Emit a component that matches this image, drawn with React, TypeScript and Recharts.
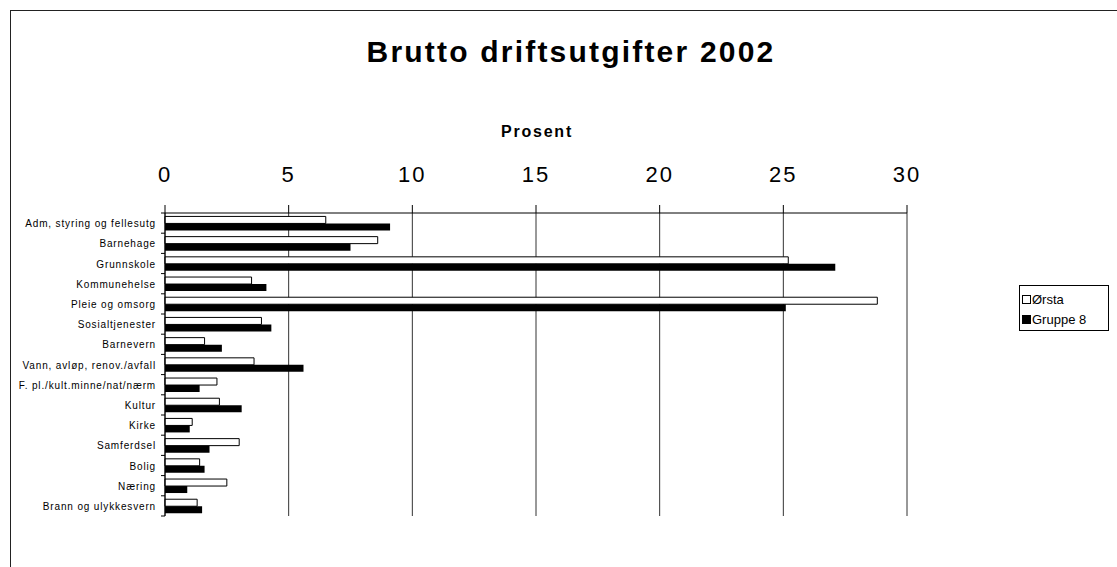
import React from 'react';
import { BarChart, Bar, XAxis, YAxis, CartesianGrid, Legend } from 'recharts';

const categories = [
  'Adm, styring og fellesutg',
  'Barnehage',
  'Grunnskole',
  'Kommunehelse',
  'Pleie og omsorg',
  'Sosialtjenester',
  'Barnevern',
  'Vann, avløp, renov./avfall',
  'F. pl./kult.minne/nat/nærm',
  'Kultur',
  'Kirke',
  'Samferdsel',
  'Bolig',
  'Næring',
  'Brann og ulykkesvern',
];
const orsta = [6.5, 8.6, 25.2, 3.5, 28.8, 3.9, 1.6, 3.6, 2.1, 2.2, 1.1, 3.0, 1.4, 2.5, 1.3];
const gruppe8 = [9.1, 7.5, 27.1, 4.1, 25.1, 4.3, 2.3, 5.6, 1.4, 3.1, 1.0, 1.8, 1.6, 0.9, 1.5];
const xTicks = [0, 5, 10, 15, 20, 25, 30];
const seriesNames = ['Ørsta', 'Gruppe 8'];
const title = 'Brutto driftsutgifter 2002';
const axisTitle = 'Prosent';

const data = categories.map((c, i) => ({ name: c, orsta: orsta[i], gruppe8: gruppe8[i] }));

const W = 1117;
const H = 567;
const MARGIN = { top: 173, right: 210, bottom: 51, left: 0 };
const X_AXIS_H = 40;
const Y_AXIS_W = 165;
const PLOT_LEFT = MARGIN.left + Y_AXIS_W;
const PLOT_H = H - MARGIN.top - X_AXIS_H - MARGIN.bottom;
const BAND = PLOT_H / categories.length;
const FONT = '"Liberation Sans", Arial, sans-serif';

const CategoryTick = (props: any) => {
  const { y, payload, index } = props;
  const half = BAND / 2;
  return (
    <g>
      <text
        x={PLOT_LEFT - 9}
        y={y}
        dy={4}
        textAnchor="end"
        fontFamily={FONT}
        fontSize={10}
        letterSpacing={0.85}
        fill="#000"
      >
        {payload.value}
      </text>
      <line x1={PLOT_LEFT - 4} x2={PLOT_LEFT} y1={y - half} y2={y - half} stroke="#000" />
      {index === categories.length - 1 && (
        <line x1={PLOT_LEFT - 4} x2={PLOT_LEFT} y1={y + half} y2={y + half} stroke="#000" />
      )}
    </g>
  );
};

const LegendBox = () => (
  <div
    style={{
      border: '1px solid #000',
      width: 90,
      height: 46,
      background: '#fff',
      fontFamily: FONT,
      fontSize: 13,
      boxSizing: 'border-box',
      padding: '3px 0 0 2px',
    }}
  >
    {seriesNames.map((n, i) => (
      <div key={n} style={{ display: 'flex', alignItems: 'center', height: 20 }}>
        <span
          style={{
            display: 'inline-block',
            width: 7,
            height: 7,
            border: '1px solid #000',
            background: i === 0 ? '#fff' : '#000',
            marginRight: 1,
          }}
        />
        <span>{n}</span>
      </div>
    ))}
  </div>
);

export default function App() {
  return (
    <div
      style={{
        position: 'fixed',
        left: 0,
        top: 0,
        width: W,
        height: H,
        overflow: 'hidden',
        background: '#fff',
      }}
    >
      <div
        style={{
          position: 'absolute',
          left: 10,
          top: 10,
          width: 1200,
          height: 700,
          border: '1.5px solid #222',
        }}
      />
      <div style={{ position: 'absolute', left: 0, top: 0 }}>
        <BarChart
          width={W}
          height={H}
          data={data}
          layout="vertical"
          margin={MARGIN}
          barCategoryGap="17%"
          barGap={0}
        >
          <CartesianGrid horizontal={false} stroke="#333" strokeWidth={1} />
          <XAxis
            type="number"
            orientation="top"
            domain={[0, 30]}
            ticks={xTicks}
            height={X_AXIS_H}
            tickSize={8}
            tickMargin={23}
            axisLine={{ stroke: '#000' }}
            tickLine={{ stroke: '#000' }}
            tick={{ fontSize: 22, fill: '#000', fontFamily: FONT, letterSpacing: 2 } as any}
            interval={0}
          />
          <YAxis
            type="category"
            dataKey="name"
            width={Y_AXIS_W}
            axisLine={{ stroke: '#000' }}
            tickLine={false}
            tick={<CategoryTick />}
            interval={0}
          />
          <Legend
            layout="horizontal"
            align="center"
            verticalAlign="middle"
            content={<LegendBox />}
            wrapperStyle={{ position: 'absolute', left: 1019, top: 285, width: 90 }}
          />
          <Bar
            dataKey="orsta"
            name={seriesNames[0]}
            fill="#fff"
            stroke="#000"
            strokeWidth={1}
            isAnimationActive={false}
          />
          <Bar dataKey="gruppe8" name={seriesNames[1]} fill="#000" isAnimationActive={false} />
        </BarChart>
      </div>
      <svg
        width={W}
        height={H}
        style={{ position: 'absolute', left: 0, top: 0, pointerEvents: 'none' }}
      >
        <text
          x={571}
          y={62}
          textAnchor="middle"
          fontFamily={FONT}
          fontWeight="bold"
          fontSize={30}
          letterSpacing={2.2}
          fill="#000"
        >
          {title}
        </text>
        <text
          x={537}
          y={137}
          textAnchor="middle"
          fontFamily={FONT}
          fontWeight="bold"
          fontSize={16}
          letterSpacing={1.8}
          fill="#000"
        >
          {axisTitle}
        </text>
      </svg>
    </div>
  );
}
